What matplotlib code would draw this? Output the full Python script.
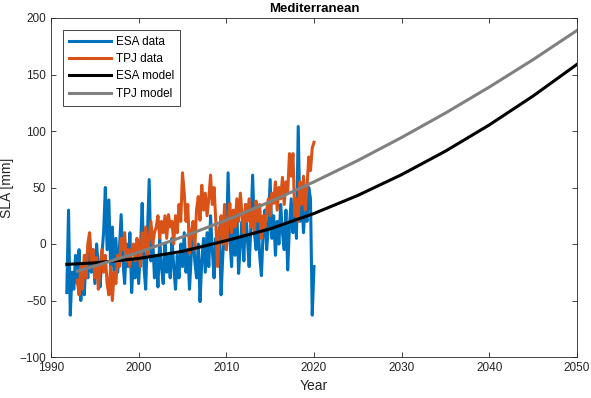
import numpy as np
import matplotlib
matplotlib.use('Agg')
import matplotlib.pyplot as plt

plt.rcParams['font.family'] = ['Liberation Sans', 'DejaVu Sans']

# ESA altimetry, sampled every 0.2 yr from 1991.8
esa_start = 1991.8
esa_step = 0.2
esa_sla = [-43, 30, -63, -25, -40, -10, -35, -5, -50, -20,
           -45, -10, -30, 5, -25, -5, -35, 0, -20, -38,
           -10, 10, 50, -5, 39, -20, 15, -30, 5, -25,
           -5, 26, -15, -35, 0, -20, 10, -43, -15, -30,
           0, -35, -5, 36, -20, -40, 10, 57, -15, 5,
           -30, -10, -38, 5, -20, -35, 0, -25, -10, -30,
           5, -20, -40, -10, -30, 0, -20, 10, -25, -5,
           -40, -10, 15, -15, -30, 0, -51, -15, 5, -25,
           10, -20, 25, -5, -30, 5, -15, 15, -45, -10,
           20, -5, 63, 5, -20, 25, -10, 30, -26, 0,
           20, -15, 35, 5, -20, 15, 61, 10, -5, 25,
           -10, -28, 10, 30, -5, 15, 57, 5, 25, -10,
           20, 0, 35, 10, -5, 30, -23, 15, 40, 10,
           30, 5, 104, 20, 45, 10, 35, 20, 50, 40,
           -63, -20]

# TPJ altimetry, every 0.2 yr from 1993.0
tpj_start = 1993.0
tpj_step = 0.2
tpj_sla = [-32, -45, -20, -40, -10, -30, 0, 10, -15, -5,
           -30, -12, -40, -20, -5, -25, -10, -35, -45, -20,
           -50, -25, -35, -10, -20, 5, -5, 10, -15, -5,
           -20, -5, 0, -15, 5, -3, -20, 10, -5, 15,
           -10, 5, 20, 0, 10, 15, 25, 5, 20, 10,
           25, 5, 26, 15, 20, 0, 25, 10, 35, 20,
           63, 45, 20, 35, -8, 10, 20, -5, 30, 42,
           21, 52, 30, 45, 25, 40, 61, 35, 50, 20,
           -20, 10, 25, 0, 35, -5, 20, 36, 10, 30,
           15, 40, 20, 45, 25, 10, 35, 20, 40, 15,
           30, 10, 38, 20, 35, 5, 25, 15, 30, 40,
           25, 45, 36, 55, 30, 50, 40, 59, 35, 55,
           45, 80, 60, 80, 25, 40, 20, 55, 35, 60,
           30, 50, 77, 65, 85, 90]

# fitted models
esa_model_years = [1991.8, 1995, 2000, 2005, 2010, 2015, 2020, 2025, 2030, 2035, 2040, 2045, 2050]
esa_model = [-18, -16.7, -12.8, -6.5, 3, 13.4, 27, 43, 61.4, 82.2, 105.4, 131, 159]
tpj_model_years = [1993, 1995, 2000, 2005, 2010, 2015, 2020, 2025, 2030, 2035, 2040, 2045, 2050]
tpj_model = [-24, -19.5, -7.3, 6.3, 21.1, 37.4, 55, 73.9, 94.3, 115.9, 138.9, 163.2, 189]

esa_years = esa_start + esa_step * np.arange(len(esa_sla))
tpj_years = tpj_start + tpj_step * np.arange(len(tpj_sla))

fig = plt.figure(figsize=(5.91, 3.98), dpi=100)
ax = fig.add_axes([51 / 591, 41 / 398, 526 / 591, 339 / 398])

ax.plot(esa_years, esa_sla, color='#0072BD', lw=2.2, label='ESA data')
ax.plot(tpj_years, tpj_sla, color='#D95319', lw=2.2, label='TPJ data')
ax.plot(esa_model_years, esa_model, color='k', lw=2.2, label='ESA model')
ax.plot(tpj_model_years, tpj_model, color=(0.5, 0.5, 0.5), lw=2.2, label='TPJ model')

ax.set_xlim(1990, 2050)
ax.set_ylim(-100, 200)
ax.set_xticks(np.arange(1990, 2051, 10))
ax.set_yticks(np.arange(-100, 201, 50))
ax.tick_params(direction='in', top=True, right=True, length=3.5, width=0.6,
               labelsize=8.5, colors='#262626')
for s in ax.spines.values():
    s.set_color('#262626')
    s.set_linewidth(0.6)

ax.set_xlabel('Year', fontsize=10, color='#262626')
ax.set_ylabel('SLA [mm]', fontsize=10, color='#262626')
ax.set_title('Mediterranean', fontsize=9.5, fontweight='bold', pad=4)

leg = ax.legend(loc='upper left', fontsize=8.5, fancybox=False, edgecolor='#262626',
                framealpha=1, handlelength=3.6, borderaxespad=1.0,
                labelspacing=0.45, handletextpad=0.4, borderpad=0.5)
leg.get_frame().set_linewidth(0.6)

fig.savefig('out.png', dpi=100)
